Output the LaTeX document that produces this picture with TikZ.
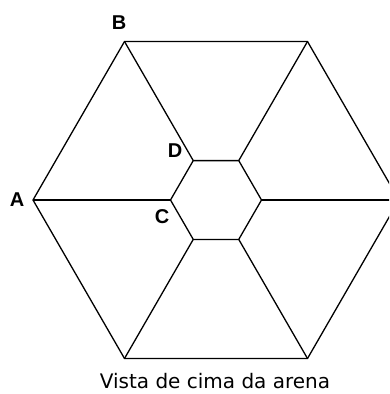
\documentclass[tikz,border=0pt]{standalone}
\usepackage{fontspec}
\setmainfont{DejaVu Sans}
\newfontfamily\vertfont{Liberation Sans}

\begin{document}
\begin{tikzpicture}[
    x=1pt, y=-1pt,
    lato/.style={line width=1.3pt, line join=miter},
    vert/.style={font=\vertfont\bfseries\fontsize{20}{20}\selectfont, inner sep=0pt},
    didasc/.style={font=\fontsize{20}{20}\selectfont, inner sep=0pt},
  ]

  % --- cornice della figura (il vertice destro esce dal bordo) ---
  \useasboundingbox (0,0) rectangle (389,394);
  \clip (0,0) rectangle (389,394);

  % --- esagono esterno ---
  \coordinate (o1) at (399,200);
  \coordinate (o2) at (307.5,41.5);
  \coordinate (o3) at (124.5,41.5);
  \coordinate (o4) at (33,200);
  \coordinate (o5) at (124.5,358.5);
  \coordinate (o6) at (307.5,358.5);

  % --- esagono interno ---
  \coordinate (i1) at (261.5,200);
  \coordinate (i2) at (238.75,160.6);
  \coordinate (i3) at (193.25,160.6);
  \coordinate (i4) at (170.5,200);
  \coordinate (i5) at (193.25,239.4);
  \coordinate (i6) at (238.75,239.4);

  \draw[lato] (o1) -- (o2) -- (o3) -- (o4) -- (o5) -- (o6) -- cycle;
  \draw[lato] (i1) -- (i2) -- (i3) -- (i4) -- (i5) -- (i6) -- cycle;

  % --- raggi tra i due esagoni ---
  \foreach \k in {1,...,6}
    \draw[lato] (o\k) -- (i\k);

  % --- etichette dei vertici ---
  \node[vert] (lB) at (119,22.5) {B};
  \node[vert] (lA) at (17,199.5) {A};
  \node[vert] (lD) at (175,150.5) {D};
  \node[vert] (lC) at (162,216.5) {C};

  % --- didascalia ---
  \node[didasc, anchor=base] (titolo) at (215,388) {Vista de cima da arena};

\end{tikzpicture}
\end{document}
